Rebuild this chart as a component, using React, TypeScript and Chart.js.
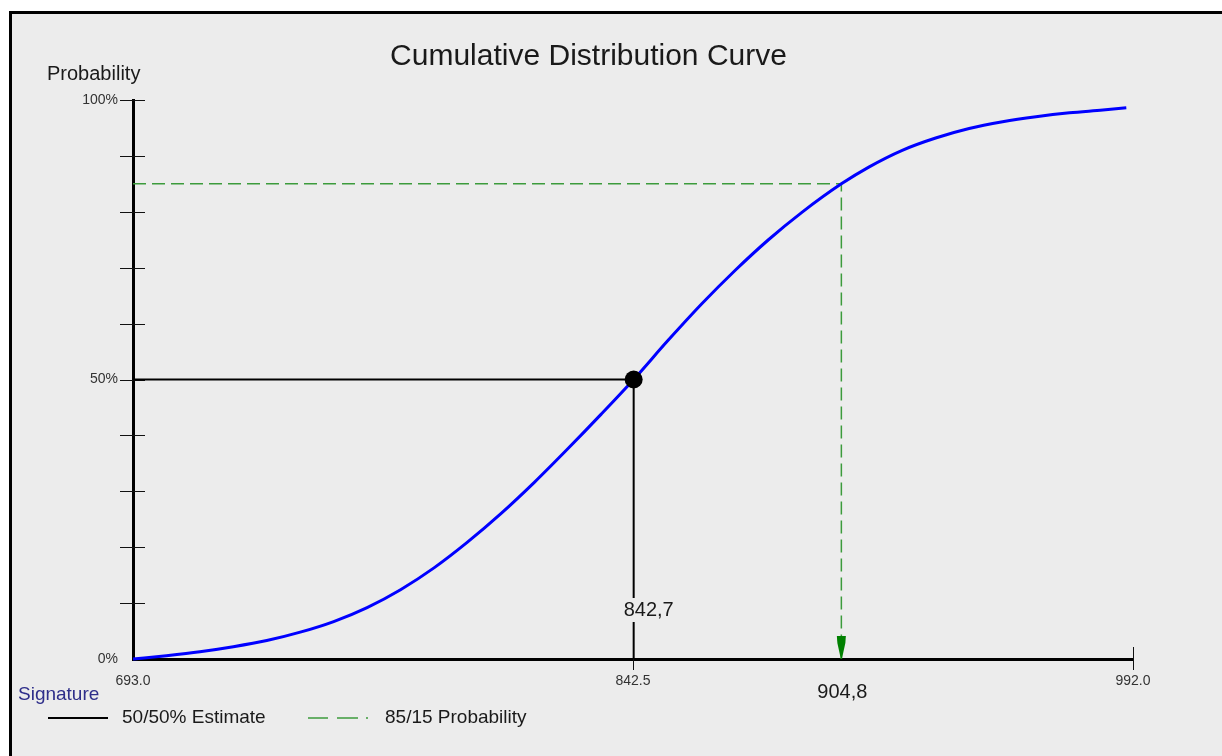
import React, { useEffect, useRef } from 'react';
import { Chart, registerables } from 'chart.js';

Chart.register(...registerables);

const chartTitle = 'Cumulative Distribution Curve';
const yAxisTitle = 'Probability';
const legendTitle = 'Signature';
const legendLabels = ['50/50% Estimate', '85/15 Probability'];

const xMin = 693.0;
const xMax = 992.0;
const xTickValues = [693.0, 842.5, 992.0];
const xTickMarkValues = [842.5, 992.0];
const yLabelValues = [0, 50, 100];
const yTickMarkValues = [10, 20, 30, 40, 50, 60, 70, 80, 90, 100];

const cdfX = [693, 703, 713, 723, 733, 743, 753, 763, 773, 783, 793, 803, 813, 823, 833, 842.7, 853, 863, 873, 883, 893, 904.8, 913, 923, 933, 943, 953, 963, 973, 983, 990];
const cdfY = [0, 0.6, 1.3, 2.2, 3.3, 4.8, 6.7, 9.2, 12.4, 16.3, 20.9, 26.0, 31.6, 37.6, 43.8, 50.0, 57.0, 63.5, 69.5, 75.0, 79.9, 85.0, 88.0, 91.0, 93.2, 94.9, 96.1, 97.0, 97.7, 98.2, 98.6];

const estimateX = 842.7;
const estimateY = 50;
const probX = 904.8;
const probY = 85;
const estimateLabel = '842,7';
const probLabel = '904,8';

const FONT = "'Liberation Sans', Arial, sans-serif";
const BG = '#ECECEC';
const GREEN = '#3c9b3c';
const ARROW_GREEN = '#008000';

const decorPlugin = {
  id: 'decor',
  beforeDraw(chart: any) {
    const ctx = chart.ctx;
    ctx.save();
    ctx.fillStyle = '#ffffff';
    ctx.fillRect(0, 0, chart.width, chart.height);
    ctx.fillStyle = BG;
    ctx.fillRect(9, 11, chart.width - 9, chart.height - 11);
    ctx.fillStyle = '#000000';
    ctx.fillRect(9, 11, 3, chart.height - 11);
    ctx.fillRect(9, 11, chart.width - 9, 3);

    ctx.fillStyle = '#1a1a1a';
    ctx.font = `30px ${FONT}`;
    ctx.textAlign = 'center';
    ctx.textBaseline = 'alphabetic';
    ctx.fillText(chartTitle, 588.5, 65);

    ctx.font = `20px ${FONT}`;
    ctx.textAlign = 'left';
    ctx.fillText(yAxisTitle, 47, 80);
    ctx.restore();
  },
  beforeDatasetsDraw(chart: any) {
    const ctx = chart.ctx;
    const xs = chart.scales.x;
    const ys = chart.scales.y;
    const area = chart.chartArea;
    ctx.save();
    ctx.strokeStyle = '#111111';
    ctx.lineWidth = 1;
    ctx.beginPath();
    yTickMarkValues.forEach((v) => {
      const py = Math.round(ys.getPixelForValue(v)) + 0.5;
      ctx.moveTo(area.left - 13, py);
      ctx.lineTo(area.left + 12, py);
    });
    xTickMarkValues.forEach((v) => {
      const px = Math.round(xs.getPixelForValue(v)) + 0.5;
      ctx.moveTo(px, area.bottom - 12);
      ctx.lineTo(px, area.bottom + 11);
    });
    ctx.stroke();
    ctx.restore();
  },
  afterDatasetsDraw(chart: any) {
    const ctx = chart.ctx;
    const xs = chart.scales.x;
    const ys = chart.scales.y;
    const area = chart.chartArea;
    ctx.save();

    // arrow at the end of the 85/15 line
    const ax = xs.getPixelForValue(probX);
    const ay = ys.getPixelForValue(0);
    ctx.fillStyle = ARROW_GREEN;
    ctx.beginPath();
    ctx.moveTo(ax - 4.5, ay - 23);
    ctx.lineTo(ax + 4.5, ay - 23);
    ctx.lineTo(ax + 4, ay - 16);
    ctx.lineTo(ax + 0.5, ay);
    ctx.lineTo(ax - 0.5, ay);
    ctx.lineTo(ax - 4, ay - 16);
    ctx.closePath();
    ctx.fill();

    // estimate label with background
    ctx.font = `20px ${FONT}`;
    ctx.textAlign = 'center';
    ctx.textBaseline = 'middle';
    const ex = xs.getPixelForValue(estimateX) + 15;
    const ey = area.bottom - 49;
    const ew = ctx.measureText(estimateLabel).width;
    ctx.fillStyle = BG;
    ctx.fillRect(ex - ew / 2 - 2, ey - 12, ew + 4, 24);
    ctx.fillStyle = '#1a1a1a';
    ctx.fillText(estimateLabel, ex, ey);

    const px = xs.getPixelForValue(probX) + 1;
    ctx.fillText(probLabel, px, area.bottom + 33);

    // legend
    ctx.textAlign = 'left';
    ctx.font = `19px ${FONT}`;
    ctx.fillStyle = '#2e2e8a';
    ctx.fillText(legendTitle, 18, 695);

    ctx.strokeStyle = '#000000';
    ctx.lineWidth = 2;
    ctx.beginPath();
    ctx.moveTo(48, 718);
    ctx.lineTo(108, 718);
    ctx.stroke();
    ctx.fillStyle = '#1a1a1a';
    ctx.fillText(legendLabels[0], 122, 718);

    ctx.strokeStyle = GREEN;
    ctx.lineWidth = 1.5;
    ctx.beginPath();
    ctx.moveTo(308, 718);
    ctx.lineTo(328, 718);
    ctx.moveTo(337, 718);
    ctx.lineTo(358, 718);
    ctx.moveTo(366, 718);
    ctx.lineTo(368, 718);
    ctx.stroke();
    ctx.fillText(legendLabels[1], 385, 718);

    ctx.restore();
  },
};

export default function App() {
  const canvasRef = useRef<HTMLCanvasElement | null>(null);

  useEffect(() => {
    if (!canvasRef.current) return;
    Chart.defaults.font.family = FONT;
    const chart = new Chart(canvasRef.current, {
      type: 'line',
      data: {
        datasets: [
          {
            label: 'Estimate point',
            data: [{ x: estimateX, y: estimateY }],
            showLine: false,
            pointRadius: 9,
            pointBackgroundColor: '#000000',
            pointBorderColor: '#000000',
            pointBorderWidth: 0,
            order: 0,
            clip: false,
          } as any,
          {
            label: 'Cumulative Distribution',
            data: cdfX.map((x, i) => ({ x, y: cdfY[i] })),
            borderColor: '#0000ff',
            borderWidth: 3,
            pointRadius: 0,
            cubicInterpolationMode: 'monotone',
            order: 1,
            clip: 10,
          } as any,
          {
            label: legendLabels[0],
            data: [
              { x: xMin, y: estimateY },
              { x: estimateX, y: estimateY },
              { x: estimateX, y: 0 },
            ],
            borderColor: '#000000',
            borderWidth: 2,
            pointRadius: 0,
            tension: 0,
            order: 2,
            clip: 10,
          } as any,
          {
            label: legendLabels[1],
            data: [
              { x: xMin, y: probY },
              { x: probX, y: probY },
              { x: probX, y: 0 },
            ],
            borderColor: GREEN,
            borderWidth: 1.5,
            borderDash: [13, 6],
            pointRadius: 0,
            tension: 0,
            order: 3,
            clip: 10,
          } as any,
        ],
      },
      options: {
        responsive: false,
        animation: false,
        events: [],
        layout: { padding: { left: 0, right: 89, top: 100, bottom: 57 } },
        plugins: {
          legend: { display: false },
          tooltip: { enabled: false },
          title: { display: false },
        },
        scales: {
          x: {
            type: 'linear',
            position: 'bottom',
            min: xMin,
            max: xMax,
            afterBuildTicks: (s: any) => {
              s.ticks = xTickValues.map((v) => ({ value: v }));
            },
            afterFit: (s: any) => {
              s.height = 40;
            },
            ticks: {
              autoSkip: false,
              maxRotation: 0,
              padding: 14,
              color: '#333333',
              font: { size: 14, family: FONT },
              callback: (v: any) => Number(v).toFixed(1),
            },
            grid: { display: true, drawOnChartArea: false, drawTicks: false },
            border: { display: true, width: 3, color: '#000000' },
          },
          y: {
            type: 'linear',
            position: 'left',
            min: 0,
            max: 100,
            afterFit: (s: any) => {
              s.width = 133;
            },
            ticks: {
              stepSize: 10,
              autoSkip: false,
              padding: 15,
              color: '#333333',
              font: { size: 14, family: FONT },
              callback: (v: any) => (yLabelValues.includes(Number(v)) ? `${v}%` : ''),
            },
            grid: { display: true, drawOnChartArea: false, drawTicks: false },
            border: { display: true, width: 3, color: '#000000' },
          },
        },
      } as any,
      plugins: [decorPlugin],
    });
    return () => chart.destroy();
  }, []);

  return (
    <div style={{ position: 'fixed', left: 0, top: 0, width: 1222, height: 756 }}>
      <canvas ref={canvasRef} width={1222} height={756} style={{ display: 'block', width: 1222, height: 756 }} />
    </div>
  );
}
